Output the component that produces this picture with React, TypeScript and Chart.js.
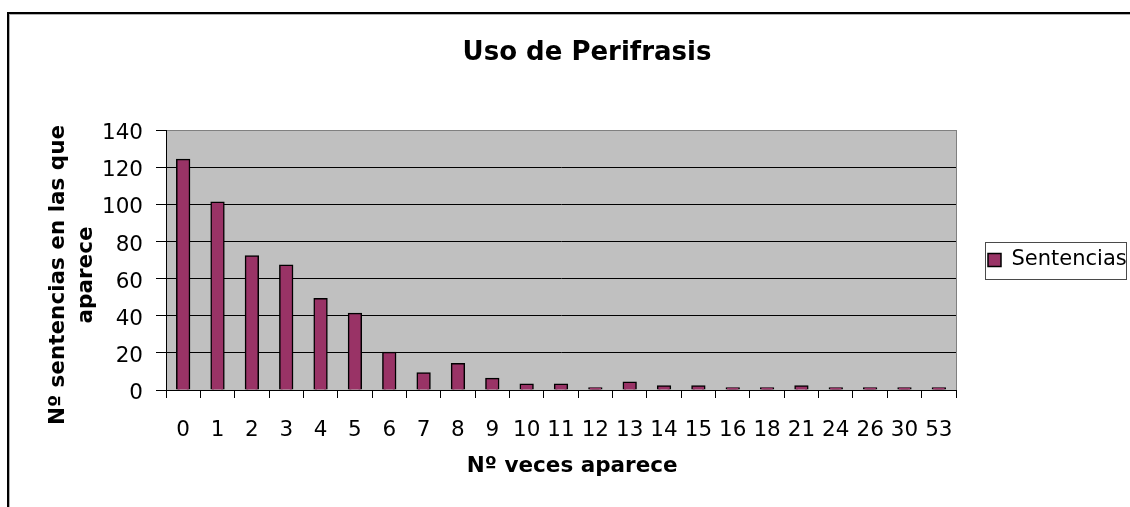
import React, { useEffect, useRef } from 'react';
import { Chart, registerables } from 'chart.js';

Chart.register(...registerables);

const categories = ['0', '1', '2', '3', '4', '5', '6', '7', '8', '9', '10', '11', '12', '13', '14', '15', '16', '18', '21', '24', '26', '30', '53'];
const sentencias = [124, 101, 72, 67, 49, 41, 20, 9, 14, 6, 3, 3, 1, 4, 2, 2, 1, 1, 2, 1, 1, 1, 1];
const yTicks = [0, 20, 40, 60, 80, 100, 120, 140];

const chartTitle = 'Uso de Perifrasis';
const seriesName = 'Sentencias';
const xTitle = ['   Nº veces aparece'];
const yTitle = ['Nº sentencias en las que    ', 'aparece    '];

const FONT = 'DejaVu Sans';

const plotBg = {
  id: 'plotBg',
  beforeDraw(chart: any) {
    const { ctx, chartArea: a } = chart;
    ctx.save();
    ctx.fillStyle = '#C0C0C0';
    ctx.fillRect(a.left, a.top, a.right - a.left, a.bottom - a.top);
    ctx.strokeStyle = '#808080';
    ctx.lineWidth = 1;
    ctx.strokeRect(Math.round(a.left) + 0.5, Math.round(a.top) + 0.5, Math.round(a.right - a.left), Math.round(a.bottom - a.top));
    ctx.restore();
  },
};

const legendFrame = {
  id: 'legendFrame',
  afterDraw(chart: any) {
    const hb = chart.legend && chart.legend.legendHitBoxes && chart.legend.legendHitBoxes[0];
    if (!hb) return;
    const { ctx } = chart;
    const cy = hb.top + hb.height / 2;
    const x0 = Math.round(hb.left - 3) + 0.5;
    const x1 = Math.round(hb.left + hb.width) - 0.5;
    const y0 = Math.round(cy - 18.5) + 0.5;
    const y1 = Math.round(cy + 18.5) + 0.5;
    ctx.save();
    ctx.strokeStyle = '#4a4a4a';
    ctx.lineWidth = 1;
    ctx.strokeRect(x0, y0, x1 - x0, y1 - y0);
    ctx.restore();
  },
};

export default function App() {
  const ref = useRef<HTMLCanvasElement | null>(null);

  useEffect(() => {
    if (!ref.current) return;
    Chart.defaults.font.family = FONT;
    Chart.defaults.color = '#000';
    const chart = new Chart(ref.current, {
      type: 'bar',
      data: {
        labels: categories,
        datasets: [
          {
            label: seriesName,
            data: sentencias,
            backgroundColor: '#993366',
            borderColor: '#000000',
            borderWidth: 1.5,
            inflateAmount: 1,
            barPercentage: 0.358,
            categoryPercentage: 1,
          },
        ],
      },
      options: {
        animation: false,
        responsive: false,
        events: [],
        layout: { padding: { left: 44, top: 28, right: 0, bottom: 15 } },
        plugins: {
          title: {
            display: true,
            text: chartTitle,
            color: '#000',
            font: { family: FONT, size: 26, weight: 'bold', lineHeight: 1.2 },
            padding: { top: 9.8, bottom: 61 },
          },
          legend: {
            display: true,
            position: 'right',
            maxWidth: 174,
            labels: {
              boxWidth: 13,
              boxHeight: 13,
              padding: 32,
              color: '#000',
              font: { family: FONT, size: 21 },
            },
          },
          tooltip: { enabled: false },
        },
        scales: {
          x: {
            type: 'category',
            offset: true,
            grid: {
              display: true,
              offset: true,
              drawOnChartArea: false,
              drawTicks: true,
              tickLength: 8,
              color: '#000',
              tickColor: '#000',
            },
            border: { display: true, color: '#000', width: 1 },
            ticks: {
              color: '#000',
              font: { family: FONT, size: 21.5 },
              padding: 19.3,
              maxRotation: 0,
              minRotation: 0,
              autoSkip: false,
            },
            title: {
              display: true,
              text: xTitle,
              color: '#000',
              font: { family: FONT, size: 21.5, weight: 'bold', lineHeight: 1.2 },
              padding: { top: 0, bottom: 12.9 },
            },
            afterFit(scale: any) {
              scale.height = 102;
            },
          },
          y: {
            type: 'linear',
            min: yTicks[0],
            max: yTicks[yTicks.length - 1],
            grid: {
              display: true,
              drawOnChartArea: true,
              drawTicks: true,
              tickLength: 10,
              color: (c: any) => (c.tick && c.tick.value === yTicks[yTicks.length - 1] ? '#808080' : '#000'),
              tickColor: '#000',
              lineWidth: 1,
            },
            border: { display: true, color: '#000', width: 1 },
            ticks: {
              stepSize: yTicks[1] - yTicks[0],
              color: '#000',
              font: { family: FONT, size: 21.5 },
              padding: 13,
              labelOffset: 3.5,
            },
            title: {
              display: true,
              text: yTitle,
              color: '#000',
              font: { family: FONT, size: 21.5, weight: 'bold', lineHeight: 1.28 },
              padding: { top: 1, bottom: 0 },
            },
            afterFit(scale: any) {
              scale.width = 122;
            },
          },
        },
      },
      plugins: [plotBg, legendFrame],
    } as any);
    return () => chart.destroy();
  }, []);

  return (
    <div style={{ position: 'absolute', left: 0, top: 0, width: 1130, height: 507, overflow: 'hidden', background: '#fff' }}>
      <div
        style={{
          position: 'absolute',
          left: 7,
          top: 12,
          width: 1300,
          height: 700,
          borderLeft: '2px solid #000',
          borderTop: '2px solid #000',
        }}
      >
        <div style={{ position: 'absolute', left: 0, top: 0, width: 1300, height: 700, borderLeft: '1px solid #b0b0b0', borderTop: '1px solid #b0b0b0' }} />
      </div>
      <canvas ref={ref} width={1130} height={507} style={{ position: 'absolute', left: 0, top: 0, width: 1130, height: 507 }} />
    </div>
  );
}
